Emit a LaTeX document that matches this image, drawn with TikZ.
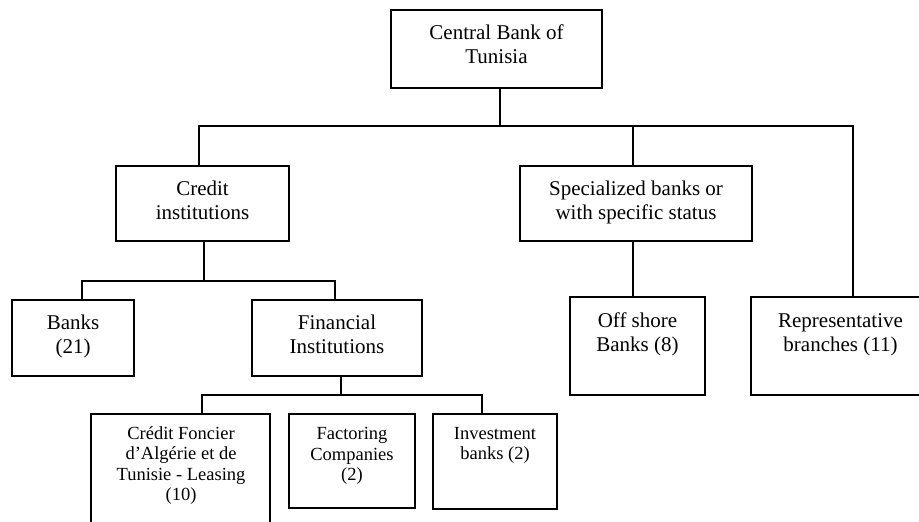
\documentclass[tikz,border=0pt]{standalone}
\usepackage{fontspec}
\setmainfont{Liberation Serif}
\begin{document}
\begin{tikzpicture}[x=1pt,y=-1pt,
  bx/.style={draw=black,line width=1.9pt,rectangle,inner sep=0pt,minimum width=#1},
  bigtxt/.style={anchor=north,inner sep=0pt,align=center,font=\fontsize{21}{24}\selectfont},
  smalltxt/.style={anchor=north,inner sep=0pt,align=center,font=\fontsize{18.5}{20.5}\selectfont},
  link/.style={draw=black,line width=1.9pt,line cap=rect}]
\clip (0,0) rectangle (919,522);
\fill[white] (0,0) rectangle (919,522);
% boxes
\node[bx=211pt,minimum height=78pt] (cb) at (496.5,49) {};
\node[bx=173pt,minimum height=75pt] (credit) at (202.5,203.5) {};
\node[bx=232pt,minimum height=75pt] (spec) at (636,203.5) {};
\node[bx=122pt,minimum height=76pt] (banks) at (73,338) {};
\node[bx=170pt,minimum height=76pt] (fin) at (337,338) {};
\node[bx=135pt,minimum height=98pt] (off) at (637.5,346) {};
\node[bx=179pt,minimum height=98pt] (rep) at (840.5,346) {};
\node[bx=179pt,minimum height=130pt] (cfat) at (180.5,479) {};
\node[bx=126pt,minimum height=94pt] (fact) at (352,461) {};
\node[bx=124pt,minimum height=95pt] (inv) at (495,461.5) {};
% texts
\node[bigtxt] (tcb) at (496.5,24.7) {Central Bank of\\Tunisia};
\node[bigtxt] (tcredit) at (202.5,180.7) {Credit\\institutions};
\node[bigtxt] (tspec) at (636,180.7) {Specialized banks or\\with specific status};
\node[bigtxt] (tbanks) at (73,314.7) {Banks\\(21)};
\node[bigtxt] (tfin) at (337,314.7) {Financial\\Institutions};
\node[bigtxt] (toff) at (637.5,312.7) {Off shore\\Banks (8)};
\node[bigtxt] (trep) at (840.5,313) {Representative\\branches (11)};
\node[smalltxt] (tcfat) at (181,426.4) {Crédit Foncier\\d’Algérie et de\\Tunisie - Leasing\\(10)};
\node[smalltxt] (tfact) at (352,427.5) {Factoring\\Companies\\(2)};
\node[smalltxt] (tinv) at (495,427) {Investment\\banks (2)};
% junctions
\coordinate (j0) at (500,126);
\coordinate (jl) at (199,126);
\coordinate (js) at (633,126);
\coordinate (jr) at (853,126);
\coordinate (k0) at (204,281);
\coordinate (kl) at (82,281);
\coordinate (kr) at (335,281);
\coordinate (m0) at (341,395);
\coordinate (ml) at (202,395);
\coordinate (mr) at (482,395);
\coordinate (s0) at (633,241);
% connectors
\draw[link] (j0 |- cb.south) -- (j0);
\draw[link] (jl |- credit.north) -- (jl) -- (jr) -- (jr |- rep.north);
\draw[link] (js) -- (js |- spec.north);
\draw[link] (k0 |- credit.south) -- (k0);
\draw[link] (kl |- banks.north) -- (kl) -- (kr) -- (kr |- fin.north);
\draw[link] (s0 |- spec.south) -- (s0 |- off.north);
\draw[link] (m0 |- fin.south) -- (m0);
\draw[link] (ml |- cfat.north) -- (ml) -- (mr) -- (mr |- inv.north);
\end{tikzpicture}
\end{document}
